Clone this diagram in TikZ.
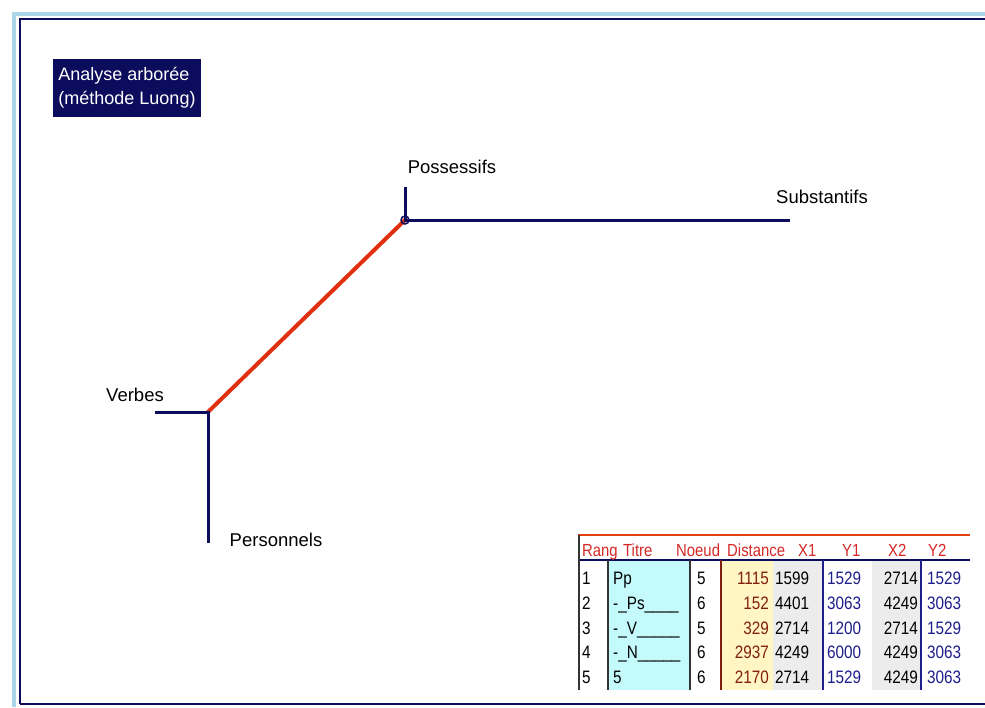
\documentclass[tikz,border=0pt]{standalone}
\usepackage{fontspec}
\setmainfont{Liberation Sans}
\newfontfamily\tabfont[FakeStretch=0.85]{Liberation Sans}
\usetikzlibrary{positioning}
\definecolor{bleunuit}{RGB}{12,12,92}
\definecolor{rouge}{RGB}{224,48,16}
\definecolor{bleuclair}{RGB}{170,214,232}
\definecolor{cyanpale}{RGB}{196,250,252}
\definecolor{jaunepale}{RGB}{255,246,196}
\definecolor{grispale}{RGB}{236,236,236}
\definecolor{rougetitre}{RGB}{214,40,40}
\definecolor{brun}{RGB}{128,30,16}
\definecolor{bleuval}{RGB}{30,30,140}
\tikzstyle{branche} = [draw=bleunuit, line width=3pt]
\tikzstyle{lien} = [draw=rouge, line width=4pt, line cap=round]
\tikzstyle{feuille} = [font=\fontsize{18.5}{22}\selectfont, inner sep=0pt]
\tikzstyle{titre} = [rectangle, fill=bleunuit, text=white, align=left, minimum height=58pt, inner xsep=5pt, font=\fontsize{18}{24}\selectfont]
\tikzstyle{entete} = [anchor=base west, inner sep=0pt, text=rougetitre, font=\tabfont\fontsize{17.5}{20}\selectfont]
\tikzstyle{case} = [inner sep=0pt, anchor=base west, font=\tabfont\fontsize{18}{20}\selectfont]
\tikzstyle{trait} = [line width=1.3pt]

\begin{document}
\begin{tikzpicture}[x=1pt, y=-1pt]
	\useasboundingbox (0,0) rectangle (985,707);
	\draw[bleuclair, line width=4pt] (14,707) -- (14,14) -- (985,14);
	\draw[bleunuit, line width=2.5pt] (20,704) -- (20,19) -- (985,19);
	\draw[bleunuit, line width=2.5pt] (20,704) -- (985,704);
	\node (titre) [titre] at (127,88) {Analyse arborée\\(méthode Luong)};

	\coordinate (pp) at (405,220);
	\coordinate (ps) at (405,187);
	\coordinate (n) at (790,220);
	\coordinate (v) at (208,412);
	\coordinate (vb) at (155,412);
	\coordinate (pe) at (208,543);
	\draw[lien] (v) -- (pp);
	\draw[branche] (ps) -- (pp) -- (n);
	\draw[branche] (vb) -- (v) -- (pe);
	\draw[bleunuit, line width=1.5pt] (pp) circle[radius=4pt];
	\node (possessifs) [feuille] at (452,167) {Possessifs};
	\node (substantifs) [feuille] at (822,197) {Substantifs};
	\node (verbes) [feuille] at (135,395) {Verbes};
	\node (personnels) [feuille] at (276,540) {Personnels};

	\fill[white] (578,535) rectangle (970,690);
	\fill[cyanpale] (608,560) rectangle (690,690);
	\fill[jaunepale] (721,560) rectangle (773,690);
	\fill[grispale] (773,560) rectangle (823,690);
	\fill[grispale] (872,560) rectangle (921,690);
	\draw[trait, rouge!80!orange] (578,535) -- (970,535);
	\draw[trait, bleunuit] (578,560) -- (970,560);
	\draw[trait, black!80] (579,535) -- (579,690);
	\draw[trait, black!80] (608,560) -- (608,690);
	\draw[trait, black!80] (690,560) -- (690,690);
	\draw[trait, brun] (721,560) -- (721,690);
	\draw[trait, bleuval] (823,560) -- (823,690);
	\draw[trait, bleuval] (921,560) -- (921,690);
	\node (hrang) [entete] at (582,556) {Rang};
	\node (htitre) [entete] at (623,556) {Titre};
	\node (hnoeud) [entete] at (676,556) {Noeud};
	\node (hdist) [entete] at (727,556) {Distance};
	\node (hxa) [entete] at (798,556) {X1};
	\node (hya) [entete] at (842,556) {Y1};
	\node (hxb) [entete] at (888,556) {X2};
	\node (hyb) [entete] at (928,556) {Y2};
	\foreach \r/\t/\n/\d/\xa/\ya/\xb/\yb [count=\i] in {1/Pp/5/1115/1599/1529/2714/1529, 2/-\_Ps\_\_\_\_/6/152/4401/3063/4249/3063, 3/-\_V\_\_\_\_\_/5/329/2714/1200/2714/1529, 4/-\_N\_\_\_\_\_/6/2937/4249/6000/4249/3063, 5/5/6/2170/2714/1529/4249/3063} {
		\pgfmathsetmacro\yl{559.75+24.75*\i}
		\node (rang\i) [case] at (582,\yl) {\r};
		\node (titre\i) [case] at (613,\yl) {\t};
		\node (noeud\i) [case] at (697,\yl) {\n};
		\node (dist\i) [case, anchor=base east, text=brun] at (769,\yl) {\d};
		\node (xa\i) [case] at (775,\yl) {\xa};
		\node (ya\i) [case, text=bleuval] at (827,\yl) {\ya};
		\node (xb\i) [case, anchor=base east] at (918,\yl) {\xb};
		\node (yb\i) [case, text=bleuval] at (927,\yl) {\yb};
	}
\end{tikzpicture}
\end{document}
